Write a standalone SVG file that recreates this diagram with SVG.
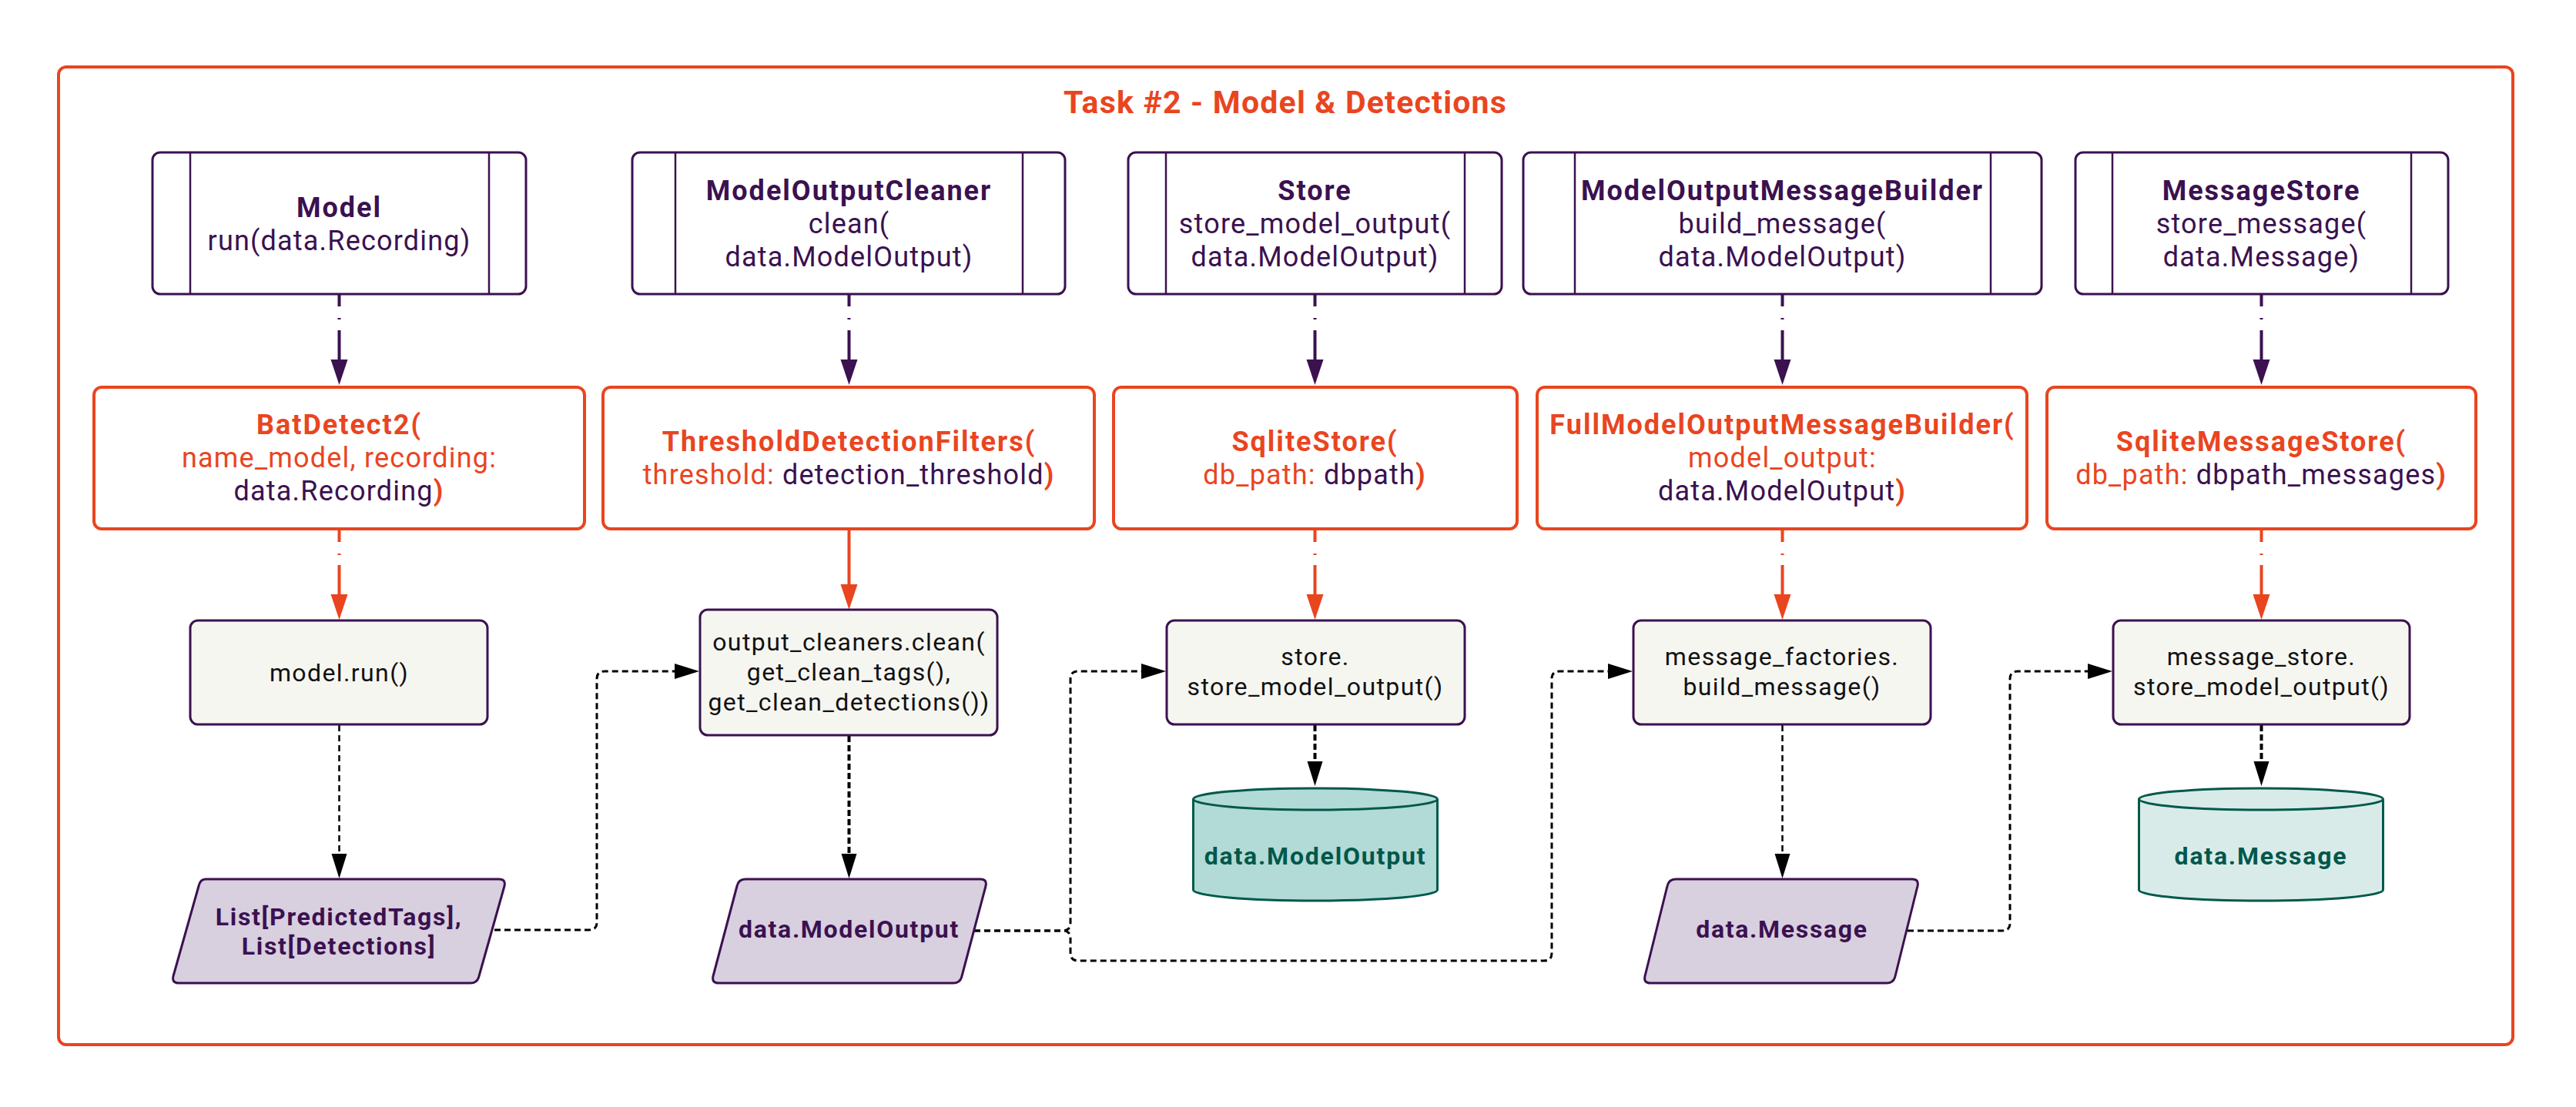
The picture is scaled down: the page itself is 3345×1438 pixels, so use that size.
<svg xmlns="http://www.w3.org/2000/svg" width="3345" height="1438" viewBox="0 0 3345 1438">
<style>
text{font-family:Roboto,"Liberation Sans",sans-serif;text-anchor:middle}
.title{font-size:41px;font-weight:bold;fill:#E9451F;letter-spacing:1.2px}
.t1{font-size:36px;fill:#3b1150;letter-spacing:1.2px}
.b{font-weight:bold;letter-spacing:2px}
.or{fill:#E9451F}
.pu{fill:#3b1150}
.t3{font-size:32px;fill:#111111;letter-spacing:1.4px}
.t4{font-size:32px;font-weight:bold;fill:#3b1150;letter-spacing:1.7px}
.tc{font-size:32px;font-weight:bold;fill:#00574b;letter-spacing:1.8px}
.sub{fill:#ffffff;stroke:#3b1150;stroke-width:3}
.subl{stroke:#3b1150;stroke-width:2.5}
.cfg{fill:#ffffff;stroke:#E9451F;stroke-width:4}
.op{fill:#f6f6f1;stroke:#3b1150;stroke-width:3}
.io{fill:#d8cfdf;stroke:#3b1150;stroke-width:3;stroke-linejoin:round}
.cyl{stroke:#00594b;stroke-width:3}
.epu{fill:none;stroke:#3b1150;stroke-width:4;stroke-dasharray:15 15 2 14 400}
.eor{fill:none;stroke:#E9451F;stroke-width:4;stroke-dasharray:15 15 2 13 400}
.eors{fill:none;stroke:#E9451F;stroke-width:4}
.ethin{fill:none;stroke:#000;stroke-width:2.5;stroke-dasharray:8 5}
.ethick{fill:none;stroke:#000;stroke-width:4;stroke-dasharray:8 4}
.eroute{fill:none;stroke:#000;stroke-width:3;stroke-dasharray:8 5}
</style>
<defs>
<marker id="apu" markerUnits="userSpaceOnUse" markerWidth="34" markerHeight="24" refX="0" refY="11" orient="auto"><path d="M0,0 L33,11 L0,22 z" fill="#3b1150"/></marker>
<marker id="aor" markerUnits="userSpaceOnUse" markerWidth="34" markerHeight="24" refX="0" refY="11" orient="auto"><path d="M0,0 L33,11 L0,22 z" fill="#E9451F"/></marker>
<marker id="abk" markerUnits="userSpaceOnUse" markerWidth="34" markerHeight="24" refX="0" refY="10" orient="auto"><path d="M0,0 L32,10 L0,20 z" fill="#000"/></marker>
</defs>
<rect x="0" y="0" width="3345" height="1438" fill="#ffffff"/>
<g id="cluster">
<rect x="76" y="87" width="3187" height="1270" rx="10" fill="none" stroke="#E9451F" stroke-width="4"/>
<text class="title" x="1669" y="147">Task #2 - Model &amp; Detections</text>
</g>

<g id="connectors">
<path class="epu" d="M440.5,383 V467" marker-end="url(#apu)"/>
<path class="epu" d="M1102.5,383 V467" marker-end="url(#apu)"/>
<path class="epu" d="M1707.5,383 V467" marker-end="url(#apu)"/>
<path class="epu" d="M2314.5,383 V467" marker-end="url(#apu)"/>
<path class="epu" d="M2936.5,383 V467" marker-end="url(#apu)"/>
<path class="eor" d="M440.5,689 V772" marker-end="url(#aor)"/>
<path class="eors" d="M1102.5,689 V759" marker-end="url(#aor)"/>
<path class="eor" d="M1707.5,689 V772" marker-end="url(#aor)"/>
<path class="eor" d="M2314.5,689 V772" marker-end="url(#aor)"/>
<path class="eor" d="M2936.5,689 V772" marker-end="url(#aor)"/>
<path class="ethin" d="M440.5,942 V1109" marker-end="url(#abk)"/>
<path class="ethick" d="M1102.5,956 V1109" marker-end="url(#abk)"/>
<path class="ethick" d="M1707.5,942 V989" marker-end="url(#abk)"/>
<path class="ethin" d="M2314.5,942 V1109" marker-end="url(#abk)"/>
<path class="ethick" d="M2936.5,942 V989" marker-end="url(#abk)"/>
<path class="eroute" d="M642,1208 H765 Q775,1208 775,1198 V882 Q775,872 785,872 H876" marker-end="url(#abk)"/>
<path class="eroute" d="M1265,1209 H1380 Q1390,1209 1390,1199 V882 Q1390,872 1400,872 H1482" marker-end="url(#abk)"/>
<path class="eroute" d="M1265,1209 H1380 Q1390,1209 1390,1219 V1238 Q1390,1248 1400,1248 H2005 Q2015,1248 2015,1238 V882 Q2015,872 2025,872 H2088" marker-end="url(#abk)"/>
<path class="eroute" d="M2477,1209 H2600 Q2610,1209 2610,1199 V882 Q2610,872 2620,872 H2711" marker-end="url(#abk)"/>
</g>

<g id="Model">
<rect class="sub" x="198" y="198" width="485" height="184" rx="10"/>
<line class="subl" x1="247" y1="198" x2="247" y2="382"/><line class="subl" x1="635" y1="198" x2="635" y2="382"/>
<text class="t1 b" x="440.5" y="282">Model</text>
<text class="t1" x="440.5" y="325">run(data.Recording)</text>
</g>
<g id="ModelOutputCleaner">
<rect class="sub" x="821" y="198" width="562" height="184" rx="10"/>
<line class="subl" x1="877" y1="198" x2="877" y2="382"/><line class="subl" x1="1328" y1="198" x2="1328" y2="382"/>
<text class="t1 b" x="1102.5" y="260">ModelOutputCleaner</text>
<text class="t1" x="1102.5" y="303">clean(</text>
<text class="t1" x="1102.5" y="346">data.ModelOutput)</text>
</g>
<g id="Store">
<rect class="sub" x="1465" y="198" width="485" height="184" rx="10"/>
<line class="subl" x1="1514" y1="198" x2="1514" y2="382"/><line class="subl" x1="1902" y1="198" x2="1902" y2="382"/>
<text class="t1 b" x="1707.5" y="260">Store</text>
<text class="t1" x="1707.5" y="303">store_model_output(</text>
<text class="t1" x="1707.5" y="346">data.ModelOutput)</text>
</g>
<g id="ModelOutputMessageBuilder">
<rect class="sub" x="1978" y="198" width="673" height="184" rx="10"/>
<line class="subl" x1="2045" y1="198" x2="2045" y2="382"/><line class="subl" x1="2585" y1="198" x2="2585" y2="382"/>
<text class="t1 b" x="2314.5" y="260">ModelOutputMessageBuilder</text>
<text class="t1" x="2314.5" y="303">build_message(</text>
<text class="t1" x="2314.5" y="346">data.ModelOutput)</text>
</g>
<g id="MessageStore">
<rect class="sub" x="2695" y="198" width="484" height="184" rx="10"/>
<line class="subl" x1="2743" y1="198" x2="2743" y2="382"/><line class="subl" x1="3131" y1="198" x2="3131" y2="382"/>
<text class="t1 b" x="2936.5" y="260">MessageStore</text>
<text class="t1" x="2936.5" y="303">store_message(</text>
<text class="t1" x="2936.5" y="346">data.Message)</text>
</g>

<g id="BatDetect2">
<rect class="cfg" x="122" y="503" width="637" height="184" rx="10"/>
<text class="t1 b or" x="440.5" y="564">BatDetect2(</text>
<text class="t1 or" x="440.5" y="607">name_model, recording:</text>
<text class="t1" x="440.5" y="650"><tspan class="pu">data.Recording</tspan><tspan class="b or">)</tspan></text>
</g>
<g id="ThresholdDetectionFilters">
<rect class="cfg" x="783" y="503" width="638" height="184" rx="10"/>
<text class="t1 b or" x="1102.5" y="586">ThresholdDetectionFilters(</text>
<text class="t1" x="1102.5" y="629"><tspan class="or">threshold:</tspan><tspan class="pu"> detection_threshold</tspan><tspan class="b or">)</tspan></text>
</g>
<g id="SqliteStore">
<rect class="cfg" x="1446" y="503" width="524" height="184" rx="10"/>
<text class="t1 b or" x="1707.5" y="586">SqliteStore(</text>
<text class="t1" x="1707.5" y="629"><tspan class="or">db_path:</tspan><tspan class="pu"> dbpath</tspan><tspan class="b or">)</tspan></text>
</g>
<g id="FullModelOutputMessageBuilder">
<rect class="cfg" x="1996" y="503" width="636" height="184" rx="10"/>
<text class="t1 b or" x="2314.5" y="564">FullModelOutputMessageBuilder(</text>
<text class="t1 or" x="2314.5" y="607">model_output:</text>
<text class="t1" x="2314.5" y="650"><tspan class="pu">data.ModelOutput</tspan><tspan class="b or">)</tspan></text>
</g>
<g id="SqliteMessageStore">
<rect class="cfg" x="2658" y="503" width="557" height="184" rx="10"/>
<text class="t1 b or" x="2936.5" y="586">SqliteMessageStore(</text>
<text class="t1" x="2936.5" y="629"><tspan class="or">db_path:</tspan><tspan class="pu"> dbpath_messages</tspan><tspan class="b or">)</tspan></text>
</g>

<g id="model_run">
<rect class="op" x="247" y="806" width="386" height="135" rx="10"/>
<text class="t3" x="440.5" y="885">model.run()</text>
</g>
<g id="output_cleaners_clean">
<rect class="op" x="909" y="792" width="386" height="163" rx="10"/>
<text class="t3" x="1102.5" y="845">output_cleaners.clean(</text>
<text class="t3" x="1102.5" y="884">get_clean_tags(),</text>
<text class="t3" x="1102.5" y="923">get_clean_detections())</text>
</g>
<g id="store_store_model_output">
<rect class="op" x="1515" y="806" width="387" height="135" rx="10"/>
<text class="t3" x="1708" y="864">store.</text>
<text class="t3" x="1708" y="903">store_model_output()</text>
</g>
<g id="message_factories_build_message">
<rect class="op" x="2121" y="806" width="386" height="135" rx="10"/>
<text class="t3" x="2314" y="864">message_factories.</text>
<text class="t3" x="2314" y="903">build_message()</text>
</g>
<g id="message_store_store_model_output">
<rect class="op" x="2744" y="806" width="385" height="135" rx="10"/>
<text class="t3" x="2936.5" y="864">message_store.</text>
<text class="t3" x="2936.5" y="903">store_model_output()</text>
</g>

<g id="list_output">
<path class="io" d="M267,1142 H648 Q657,1142 655,1151 L622,1268 Q620,1277 611,1277 H232 Q223,1277 225,1268 L258,1151 Q260,1142 267,1142 z"/>
<text class="t4" x="440" y="1202">List[PredictedTags],</text>
<text class="t4" x="440" y="1240">List[Detections]</text>
</g>
<g id="data_ModelOutput_io">
<path class="io" d="M968,1142 H1273 Q1282,1142 1280,1151 L1249,1268 Q1247,1277 1238,1277 H933 Q924,1277 926,1268 L957,1151 Q959,1142 968,1142 z"/>
<text class="t4" x="1102.5" y="1218">data.ModelOutput</text>
</g>
<g id="data_Message_io">
<path class="io" d="M2176,1142 H2483 Q2492,1142 2490,1151 L2461,1268 Q2459,1277 2450,1277 H2143 Q2134,1277 2136,1268 L2165,1151 Q2167,1142 2176,1142 z"/>
<text class="t4" x="2314" y="1218">data.Message</text>
</g>

<g id="db_ModelOutput">
<path class="cyl" fill="#b2dad6" d="M1549.5,1038 A158.5,14 0 0 1 1866.5,1038 V1156 A158.5,14 0 0 1 1549.5,1156 z"/>
<path class="cyl" fill="none" d="M1549.5,1038 A158.5,14 0 0 0 1866.5,1038"/>
<text class="tc" x="1708" y="1123">data.ModelOutput</text>
</g>
<g id="db_Message">
<path class="cyl" fill="#d9ebe9" d="M2777.5,1038 A158.5,14 0 0 1 3094.5,1038 V1156 A158.5,14 0 0 1 2777.5,1156 z"/>
<path class="cyl" fill="none" d="M2777.5,1038 A158.5,14 0 0 0 3094.5,1038"/>
<text class="tc" x="2936" y="1123">data.Message</text>
</g>
</svg>
